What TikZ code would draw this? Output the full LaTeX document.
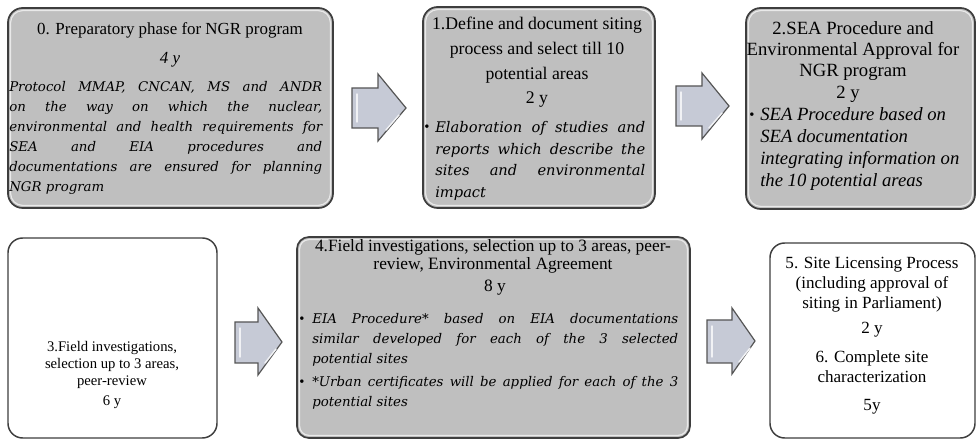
\documentclass[tikz,border=0pt]{standalone}
\usepackage{fontspec}
\setmainfont{Liberation Serif}
\newfontfamily\dvs{DejaVu Serif}
\usetikzlibrary{fit}
\definecolor{boxfill}{HTML}{BFBFBF}
\definecolor{boxline}{HTML}{3E3E3E}
\definecolor{arrfill}{HTML}{C6CAD6}
\definecolor{arrline}{HTML}{555555}
\begin{document}
\begin{tikzpicture}[x=0.75pt,y=-0.75pt,
  gbox/.style={draw=boxline, line width=1.3pt, fill=boxfill, rounded corners=11pt, inner sep=0pt},
  wbox/.style={draw=boxline, line width=1.1pt, fill=white, rounded corners=11pt, inner sep=0pt},
  hlbox/.style={draw=white!65!boxfill, line width=0.9pt, rounded corners=9pt, inner sep=-2.6pt},
  arr/.style={draw=arrline, line width=0.9pt, fill=arrfill, line join=miter},
  arrhl/.style={draw=white!75!arrfill, line width=1.1pt, line cap=round},
  ttl/.style={inner sep=0pt, align=center},
  para/.style={inner sep=0pt, align=justify, anchor=west},
  bul/.style={inner sep=0pt, font=\fontsize{11}{11}\selectfont}
]
\useasboundingbox (0,0) rectangle (976,441);

% ---------- boxes ----------
\node[gbox, fit={(8,8) (333,208)}] (b0) {};
\node[hlbox, fit=(b0)] (b0h) {};
\node[gbox, fit={(423,7) (655,208)}] (b1) {};
\node[hlbox, fit=(b1)] (b1h) {};
\node[gbox, fit={(746,8) (975,209)}] (b2) {};
\node[hlbox, fit=(b2)] (b2h) {};
\node[wbox, fit={(8,238) (217,438)}] (b3) {};
\node[gbox, rounded corners=9pt, fit={(297,237) (690,438)}] (b4) {};
\node[hlbox, rounded corners=7pt, fit=(b4)] (b4h) {};
\node[wbox, fit={(770,243) (975,438)}] (b5) {};

% ---------- arrows ----------
\path[arr] (352,88) -- (378,88) -- (378,74) -- (406,108) -- (378,141) -- (378,128) -- (352,128) -- cycle;
\draw[arrhl] (357,94) -- (357,122);
\draw[arrhl] (386,130) -- (399,115);
\path[arr] (676,86) -- (702,86) -- (702,73) -- (729,106) -- (702,139) -- (702,126) -- (676,126) -- cycle;
\draw[arrhl] (681,92) -- (681,120);
\draw[arrhl] (709,128) -- (722,113);
\path[arr] (235,322) -- (258,322) -- (258,308) -- (282,342) -- (258,375) -- (258,363) -- (235,363) -- cycle;
\draw[arrhl] (240,328) -- (240,357);
\draw[arrhl] (265,363) -- (276,349);
\path[arr] (707,320) -- (732,320) -- (732,308) -- (755,341) -- (732,374) -- (732,363) -- (707,363) -- cycle;
\draw[arrhl] (712,326) -- (712,357);
\draw[arrhl] (739,362) -- (750,348);

% ---------- box 0 ----------
\node[ttl, font=\fontsize{12.7}{15}\selectfont] (t0) at (170,30) {0. Preparatory phase for NGR program};
\node[ttl, font=\fontsize{12.7}{15}\selectfont\itshape] (y0) at (170,60) {4 y};
\node[para, text width=234.75pt, font=\dvs\itshape\fontsize{10}{15}\selectfont] (p0) at (9,138)
 {Protocol MMAP, CNCAN, MS and ANDR\linebreak on the way on which the nuclear,\linebreak environmental and health requirements for\linebreak SEA and EIA procedures and\linebreak documentations are ensured for planning\linebreak NGR program};

% ---------- box 1 ----------
\node[ttl, font=\fontsize{13.3}{18.75}\selectfont] (t1) at (537,50) {1.Define and document siting\\process and select till 10\\potential areas};
\node[ttl, font=\fontsize{13.3}{15}\selectfont] (y1) at (537,100) {2 y};
\node[bul] (u1) at (427,128) {\textbullet};
\node[para, text width=157.5pt, font=\dvs\itshape\fontsize{11}{16.3}\selectfont] (p1) at (435,161)
 {Elaboration of studies and\linebreak reports which describe the\linebreak sites and environmental\linebreak impact};

% ---------- box 2 ----------
\node[ttl, font=\fontsize{14}{15.8}\selectfont] (t2) at (853,51) {2.SEA Procedure and\\Environmental Approval for\\NGR program};
\node[ttl, font=\fontsize{14}{15}\selectfont] (y2) at (848,94) {2 y};
\node[bul] (u2) at (752,116) {\textbullet};
\node[inner sep=0pt, align=left, anchor=west, font=\itshape\fontsize{14}{16.3}\selectfont] (p2) at (760,149)
 {SEA Procedure based on\\SEA documentation\\integrating information on\\the 10 potential areas};

% ---------- box 3 ----------
\node[ttl, font=\fontsize{11}{12.75}\selectfont] (t3) at (112,365) {3.Field investigations,\\selection up to 3 areas,\\peer-review};
\node[ttl, font=\fontsize{11}{12.75}\selectfont] (y3) at (112,402) {6 y};

% ---------- box 4 ----------
\node[ttl, font=\fontsize{13}{13.5}\selectfont] (t4) at (493,256) {4.Field investigations, selection up to 3 areas, peer-\\review, Environmental Agreement};
\node[ttl, font=\fontsize{13}{15}\selectfont] (y4) at (495,288) {8 y};
\node[bul] (u4a) at (302,320) {\textbullet};
\node[para, text width=274.5pt, font=\dvs\itshape\fontsize{10}{15}\selectfont] (p4a) at (312,340)
 {EIA Procedure* based on EIA documentations\linebreak similar developed for each of the 3 selected\linebreak potential sites};
\node[bul] (u4b) at (302,383) {\textbullet};
\node[para, text width=274.5pt, font=\dvs\itshape\fontsize{10}{15}\selectfont] (p4b) at (312,393)
 {*Urban certificates will be applied for each of the 3\linebreak potential sites};

% ---------- box 5 ----------
\node[ttl, font=\fontsize{12.8}{15}\selectfont] (t5) at (872,285) {5. Site Licensing Process\\(including approval of\\siting in Parliament)};
\node[ttl, font=\fontsize{12.8}{15}\selectfont] (y5) at (872,330) {2 y};
\node[ttl, font=\fontsize{12.8}{15}\selectfont] (t6) at (872,367) {6. Complete site\\characterization};
\node[ttl, font=\fontsize{12.8}{15}\selectfont] (y6) at (872,407) {5y};
\end{tikzpicture}
\end{document}
